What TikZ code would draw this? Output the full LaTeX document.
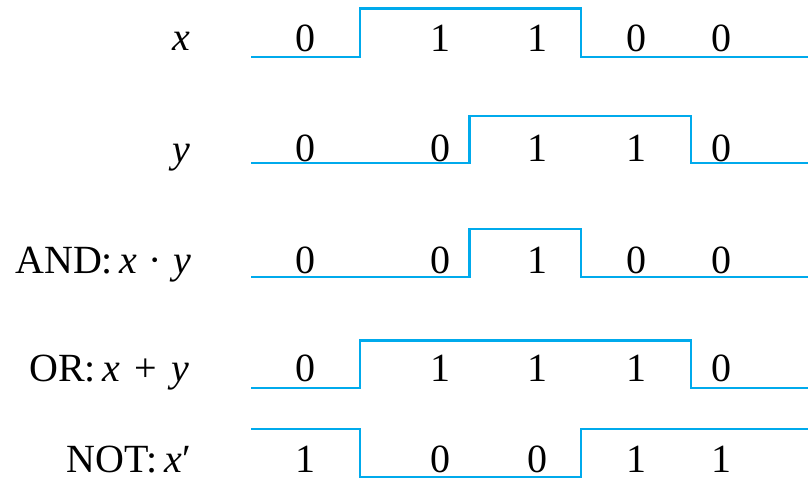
\documentclass[tikz,border=0pt]{standalone}
\usepackage{fontspec}
\setmainfont{Liberation Serif}
\definecolor{wavecol}{RGB}{0,170,236}
\begin{document}
\begin{tikzpicture}[x=1pt,y=-1pt,
  wave/.style={draw=wavecol, line width=2.2pt, line join=miter},
  bit/.style={anchor=base, inner sep=0pt, font=\fontsize{40}{42}\selectfont},
  lab/.style={anchor=base east, inner sep=0pt, font=\fontsize{40}{42}\selectfont}]
\useasboundingbox (0,0) rectangle (808,483);
% labels
\node[lab] (lx) at (190,50) {\itshape x};
\node[lab] (ly) at (190,162) {\itshape y};
\node[lab] (land) at (191,273) {AND:\,{\itshape x}\;·\;{\itshape y}};
\node[lab] (lor) at (189,381.7) {OR:\,{\itshape x}\hspace{0.35em}+\hspace{0.35em}{\itshape y}};
\node[lab] (lnot) at (191,472) {NOT:\,{\itshape x}′};
% waveforms
\draw[wave] (251,56.7) -- (360,56.7) -- (360,8.5) -- (580.7,8.5) -- (580.7,56.7) -- (808,56.7);
\draw[wave] (251,163.3) -- (469.5,163.3) -- (469.5,116) -- (690.7,116) -- (690.7,163.3) -- (808,163.3);
\draw[wave] (251,276.7) -- (469.5,276.7) -- (469.5,229) -- (580.7,229) -- (580.7,276.7) -- (808,276.7);
\draw[wave] (251,388.3) -- (360,388.3) -- (360,340.5) -- (690.7,340.5) -- (690.7,388.3) -- (808,388.3);
\draw[wave] (251,429.3) -- (360,429.3) -- (360,477) -- (580.7,477) -- (580.7,429.3) -- (808,429.3);
% bits
\foreach \v [count=\i] in {0,1,1,0,0} {
  \pgfmathsetmacro{\px}{{305,440,537,636,721}[\i-1]}
  \node[bit] (x\i) at (\px,51) {\v};}
\foreach \v [count=\i] in {0,0,1,1,0} {
  \pgfmathsetmacro{\px}{{305,440,537,636,721}[\i-1]}
  \node[bit] (y\i) at (\px,161.5) {\v};}
\foreach \v [count=\i] in {0,0,1,0,0} {
  \pgfmathsetmacro{\px}{{305,440,537,636,721}[\i-1]}
  \node[bit] (a\i) at (\px,273) {\v};}
\foreach \v [count=\i] in {0,1,1,1,0} {
  \pgfmathsetmacro{\px}{{305,440,537,636,721}[\i-1]}
  \node[bit] (o\i) at (\px,381.7) {\v};}
\foreach \v [count=\i] in {1,0,0,1,1} {
  \pgfmathsetmacro{\px}{{305,440,537,636,721}[\i-1]}
  \node[bit] (n\i) at (\px,472.5) {\v};}
\end{tikzpicture}
\end{document}
